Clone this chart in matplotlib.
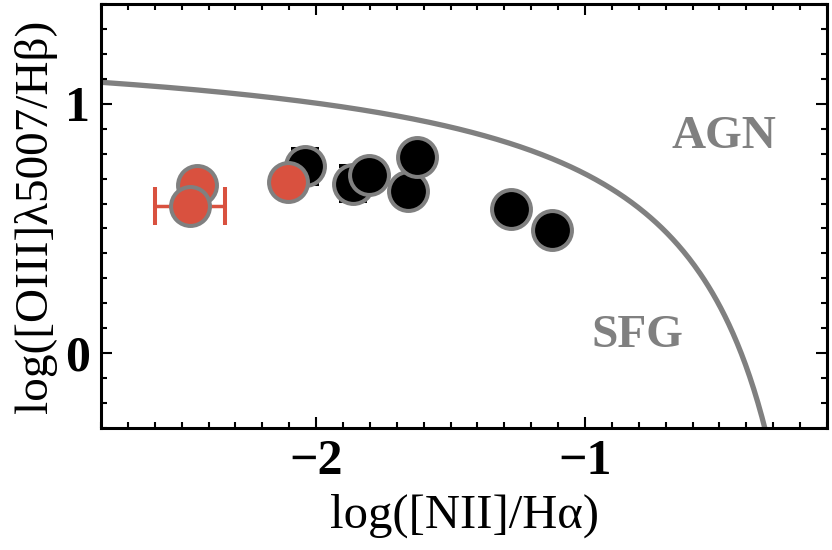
import matplotlib
matplotlib.use("Agg")
import matplotlib.pyplot as plt
import numpy as np
from matplotlib.ticker import MultipleLocator

plt.rcParams['font.family'] = ['Liberation Serif', 'DejaVu Serif']
plt.rcParams['mathtext.fontset'] = 'stix'

# measured line ratios
black_x = [-2.04, -1.864, -1.805, -1.66, -1.624, -1.276, -1.124]
black_y = [0.749, 0.680, 0.715, 0.649, 0.787, 0.576, 0.493]
black_yerr = [0.07, 0.07, 0.0, 0.0, 0.0, 0.0, 0.0]

red_x = [-2.444, -2.468, -2.106]
red_y = [0.676, 0.592, 0.688]
red_xerr = [0.0, 0.13, 0.0]

# Kauffmann et al. (2003) demarcation
ka_a, ka_b, ka_c = 0.61, 0.05, 1.3

gray = '#808080'
red = '#d9513f'

fig = plt.figure(figsize=(8.32, 5.5), dpi=100)
ax = fig.add_axes([0.1214, 0.2218, 0.8726, 0.771])

xc = np.linspace(-2.8, -0.25, 500)
ax.plot(xc, ka_a / (xc - ka_b) + ka_c, color=gray, lw=3.8, zorder=1)

for x, y, ye in zip(black_x, black_y, black_yerr):
    ax.errorbar(x, y, yerr=ye if ye > 0 else None, fmt='o', ms=28,
                mfc='black', mec=gray, mew=2.9, ecolor='black',
                elinewidth=1.0, capsize=10, capthick=1.0, zorder=2)

for x, y, xe in zip(red_x, red_y, red_xerr):
    ax.errorbar(x, y, xerr=xe if xe > 0 else None, fmt='o', ms=28,
                mfc=red, mec=gray, mew=2.9, ecolor=red,
                elinewidth=2.5, capsize=14, capthick=2.5, zorder=3)

ax.text(-0.485, 0.868, 'AGN', color=gray, fontsize=34, fontweight='bold',
        ha='center', va='center')
ax.text(-0.806, 0.068, 'SFG', color=gray, fontsize=34, fontweight='bold',
        ha='center', va='center')

ax.set_xlim(-2.8, -0.1)
ax.set_ylim(-0.3, 1.4)
ax.xaxis.set_major_locator(MultipleLocator(1))
ax.xaxis.set_minor_locator(MultipleLocator(0.1))
ax.yaxis.set_major_locator(MultipleLocator(1))
ax.yaxis.set_minor_locator(MultipleLocator(0.1))
ax.tick_params(which='both', direction='in', top=True, right=True,
               width=1.5, labelsize=36)
ax.tick_params(which='major', length=8, pad=8)
ax.tick_params(which='minor', length=4)
for lab in ax.get_xticklabels() + ax.get_yticklabels():
    lab.set_fontweight('bold')
for s in ax.spines.values():
    s.set_linewidth(2.2)

ax.set_xlabel('log([NII]/H\u03b1)', fontsize=35, labelpad=6)
ax.set_ylabel('log([OIII]\u03bb5007/H\u03b2)', fontsize=34, labelpad=6)

fig.savefig('out.png', dpi=100)
